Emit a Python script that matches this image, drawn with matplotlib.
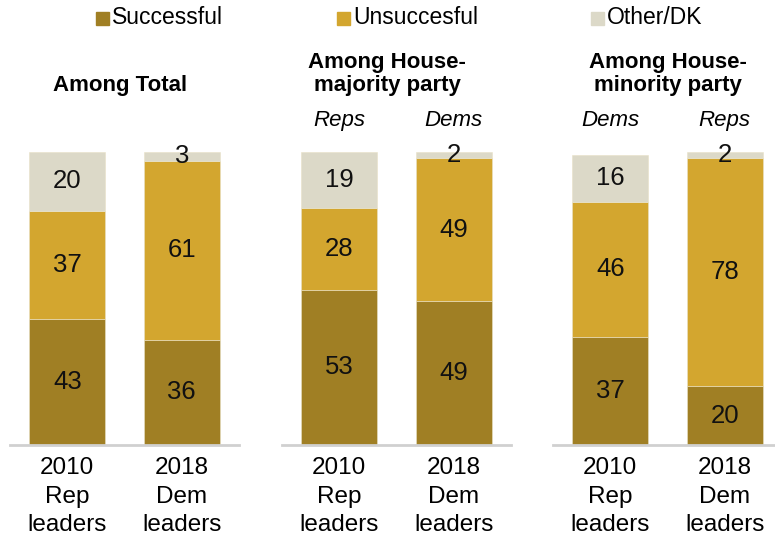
import matplotlib
matplotlib.use("Agg")
import matplotlib.pyplot as plt

plt.rcParams['font.family'] = ['Liberation Sans', 'DejaVu Sans']

# Data
panel_titles = ["Among Total", "Among House-\nmajority party", "Among House-\nminority party"]
sub_labels = [["", ""], ["Reps", "Dems"], ["Dems", "Reps"]]
categories = ["2010\nRep\nleaders", "2018\nDem\nleaders"]
successful = [[43, 36], [53, 49], [37, 20]]
unsuccessful = [[37, 61], [28, 49], [46, 78]]
other = [[20, 3], [19, 2], [16, 2]]
series_names = ["Successful", "Unsuccesful", "Other/DK"]
colors = ["#A07F24", "#D3A62F", "#DCD9C8"]

W, H = 775, 541
fig = plt.figure(figsize=(W / 100, H / 100), dpi=100)

ax_left = [10, 282, 553]
ax_w = 229
base_y = 445
top_y = 152

for p in range(3):
    ax = fig.add_axes([ax_left[p] / W, 1 - base_y / H, ax_w / W, (base_y - top_y) / H])
    xs = [0, 1]
    s = successful[p]; u = unsuccessful[p]; o = other[p]
    bottoms_u = s
    bottoms_o = [a + b for a, b in zip(s, u)]
    ax.bar(xs, s, width=0.667, color=colors[0], edgecolor="#e9e2c8", linewidth=0.4)
    ax.bar(xs, u, bottom=bottoms_u, width=0.667, color=colors[1], edgecolor="#e9e2c8", linewidth=0.4)
    ax.bar(xs, o, bottom=bottoms_o, width=0.667, color=colors[2], edgecolor="#e9e2c8", linewidth=0.4)
    for i in range(2):
        for val, b in ((s[i], 0), (u[i], s[i]), (o[i], s[i] + u[i])):
            ax.text(xs[i], b + val / 2, str(val), ha="center", va="center",
                    fontsize=18.5, color="#111111")
    ax.set_xlim(-0.5, 1.5)
    ax.set_ylim(0, 100)
    ax.set_xticks(xs)
    ax.set_xticklabels(categories, fontsize=17.5, linespacing=1.38)
    ax.tick_params(axis="x", length=0, pad=9)
    ax.set_yticks([])
    for sp in ["top", "right", "left"]:
        ax.spines[sp].set_visible(False)
    ax.spines["bottom"].set_color("#d0d0d0")
    ax.spines["bottom"].set_linewidth(2)
    # subtitle labels
    for i in range(2):
        if sub_labels[p][i]:
            xc = ax_left[p] + ax_w * (0.25 + 0.5 * i)
            fig.text(xc / W, 1 - 121 / H, sub_labels[p][i], ha="center", va="center",
                     fontsize=16, style="italic")

# Panel titles
fig.text(120 / W, 1 - 85 / H, panel_titles[0], ha="center", va="center",
         fontsize=16, fontweight="bold")
fig.text(387 / W, 1 - 74 / H, panel_titles[1], ha="center", va="center",
         fontsize=16, fontweight="bold", linespacing=1.15)
fig.text(668 / W, 1 - 74 / H, panel_titles[2], ha="center", va="center",
         fontsize=16, fontweight="bold", linespacing=1.15)

# Legend
leg_sq_x = [96, 337, 591]
for k in range(3):
    fig.patches.append(plt.Rectangle((leg_sq_x[k] / W, 1 - 25 / H), 13 / W, 13 / H,
                                     transform=fig.transFigure, color=colors[k]))
    fig.text((leg_sq_x[k] + 16) / W, 1 - 18 / H, series_names[k], ha="left", va="center",
             fontsize=16.5)

fig.savefig("out.png", dpi=100)
